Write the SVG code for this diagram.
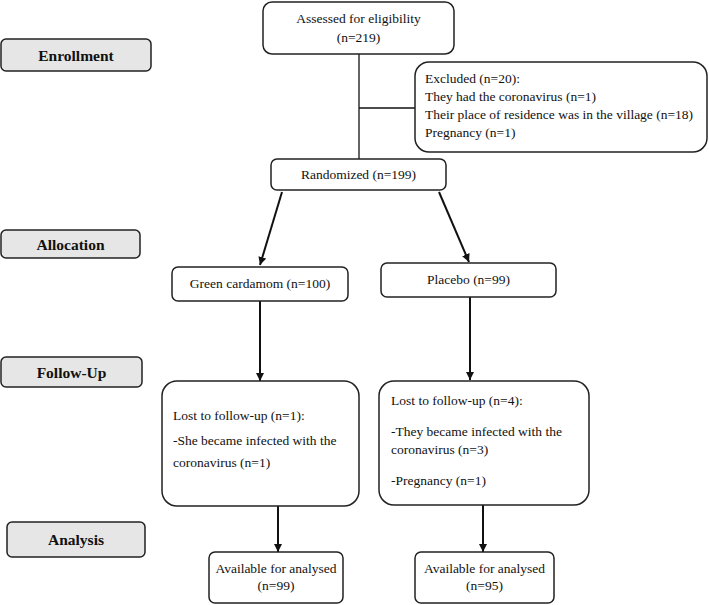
<svg xmlns="http://www.w3.org/2000/svg" width="709" height="605" viewBox="0 0 709 605">
<style>
.stage rect{fill:#e6e6e6;stroke:#222;stroke-width:1.5}
.stage text{font-family:"Liberation Serif","Times New Roman",serif;font-weight:bold;font-size:15.5px;text-anchor:middle;fill:#111}
.box rect{fill:#fff;stroke:#222;stroke-width:1.5}
.box text{font-family:"Liberation Serif","Times New Roman",serif;font-size:13.5px;fill:#111}
.c{text-anchor:middle}
.conn line{stroke:#111;stroke-width:2}
.conn .thin{stroke-width:1.3}
</style>
<defs>
<marker id="ah" viewBox="0 0 10 10" refX="10" refY="5" markerWidth="4" markerHeight="4" orient="auto" markerUnits="strokeWidth">
<path d="M0,0 L10,5 L0,10 z" fill="#111"/>
</marker>
</defs>
<g id="stage-enrollment" class="stage"><rect x="1" y="39" width="150" height="32" rx="5"/><text x="76" y="61">Enrollment</text></g>
<g id="stage-allocation" class="stage"><rect x="1" y="230" width="139" height="28" rx="5"/><text x="70.5" y="250">Allocation</text></g>
<g id="stage-followup" class="stage"><rect x="1" y="357" width="141" height="30" rx="5"/><text x="71.5" y="378">Follow-Up</text></g>
<g id="stage-analysis" class="stage"><rect x="7" y="522" width="138" height="35" rx="5"/><text x="76" y="545">Analysis</text></g>

<g id="connectors" class="conn">
<line class="thin" x1="359" y1="54" x2="359" y2="160"/>
<line class="thin" x1="359" y1="108" x2="415" y2="108"/>
<line x1="282" y1="192" x2="260" y2="265" marker-end="url(#ah)"/>
<line x1="439" y1="192" x2="469" y2="262" marker-end="url(#ah)"/>
<line x1="260" y1="301" x2="260" y2="381" marker-end="url(#ah)"/>
<line x1="470" y1="297" x2="470" y2="380" marker-end="url(#ah)"/>
<line x1="278" y1="506" x2="278" y2="552" marker-end="url(#ah)"/>
<line x1="483" y1="505" x2="483" y2="552" marker-end="url(#ah)"/>
</g>

<g id="assessed" class="box"><rect x="263" y="2" width="191" height="52" rx="9"/><text class="c" x="358.5" y="23">Assessed for eligibility</text><text class="c" x="358.5" y="42">(n=219)</text></g>
<g id="excluded" class="box"><rect x="415" y="62" width="292" height="90" rx="14"/>
<text x="425" y="83">Excluded (n=20):</text>
<text x="425" y="101">They had the coronavirus (n=1)</text>
<text x="425" y="119" textLength="268" lengthAdjust="spacingAndGlyphs">Their place of residence was in the village (n=18)</text>
<text x="425" y="137">Pregnancy (n=1)</text></g>
<g id="randomized" class="box"><rect x="271" y="159" width="175" height="31" rx="6"/><text class="c" x="358.5" y="179">Randomized (n=199)</text></g>
<g id="green" class="box"><rect x="172" y="267" width="176" height="34" rx="6"/><text class="c" x="260" y="288">Green cardamom (n=100)</text></g>
<g id="placebo" class="box"><rect x="381" y="263" width="175" height="34" rx="6"/><text class="c" x="468.5" y="284">Placebo (n=99)</text></g>
<g id="lost-green" class="box"><rect x="162" y="381" width="197" height="125" rx="15"/>
<text x="173" y="420">Lost to follow-up (n=1):</text>
<text x="173" y="445"> -She became infected with the</text>
<text x="173" y="467">coronavirus (n=1)</text></g>
<g id="lost-placebo" class="box"><rect x="379" y="381" width="210" height="124" rx="15"/>
<text x="391" y="405">Lost to follow-up (n=4):</text>
<text x="391" y="436">-They became infected with the</text>
<text x="391" y="454">coronavirus (n=3)</text>
<text x="391" y="485">-Pregnancy (n=1)</text></g>
<g id="analysed-green" class="box"><rect x="209" y="552" width="134" height="51" rx="6"/><text class="c" x="276" y="573">Available for analysed</text><text class="c" x="276" y="590">(n=99)</text></g>
<g id="analysed-placebo" class="box"><rect x="415" y="552" width="139" height="51" rx="6"/><text class="c" x="484.5" y="573">Available for analysed</text><text class="c" x="484.5" y="590">(n=95)</text></g>
</svg>
